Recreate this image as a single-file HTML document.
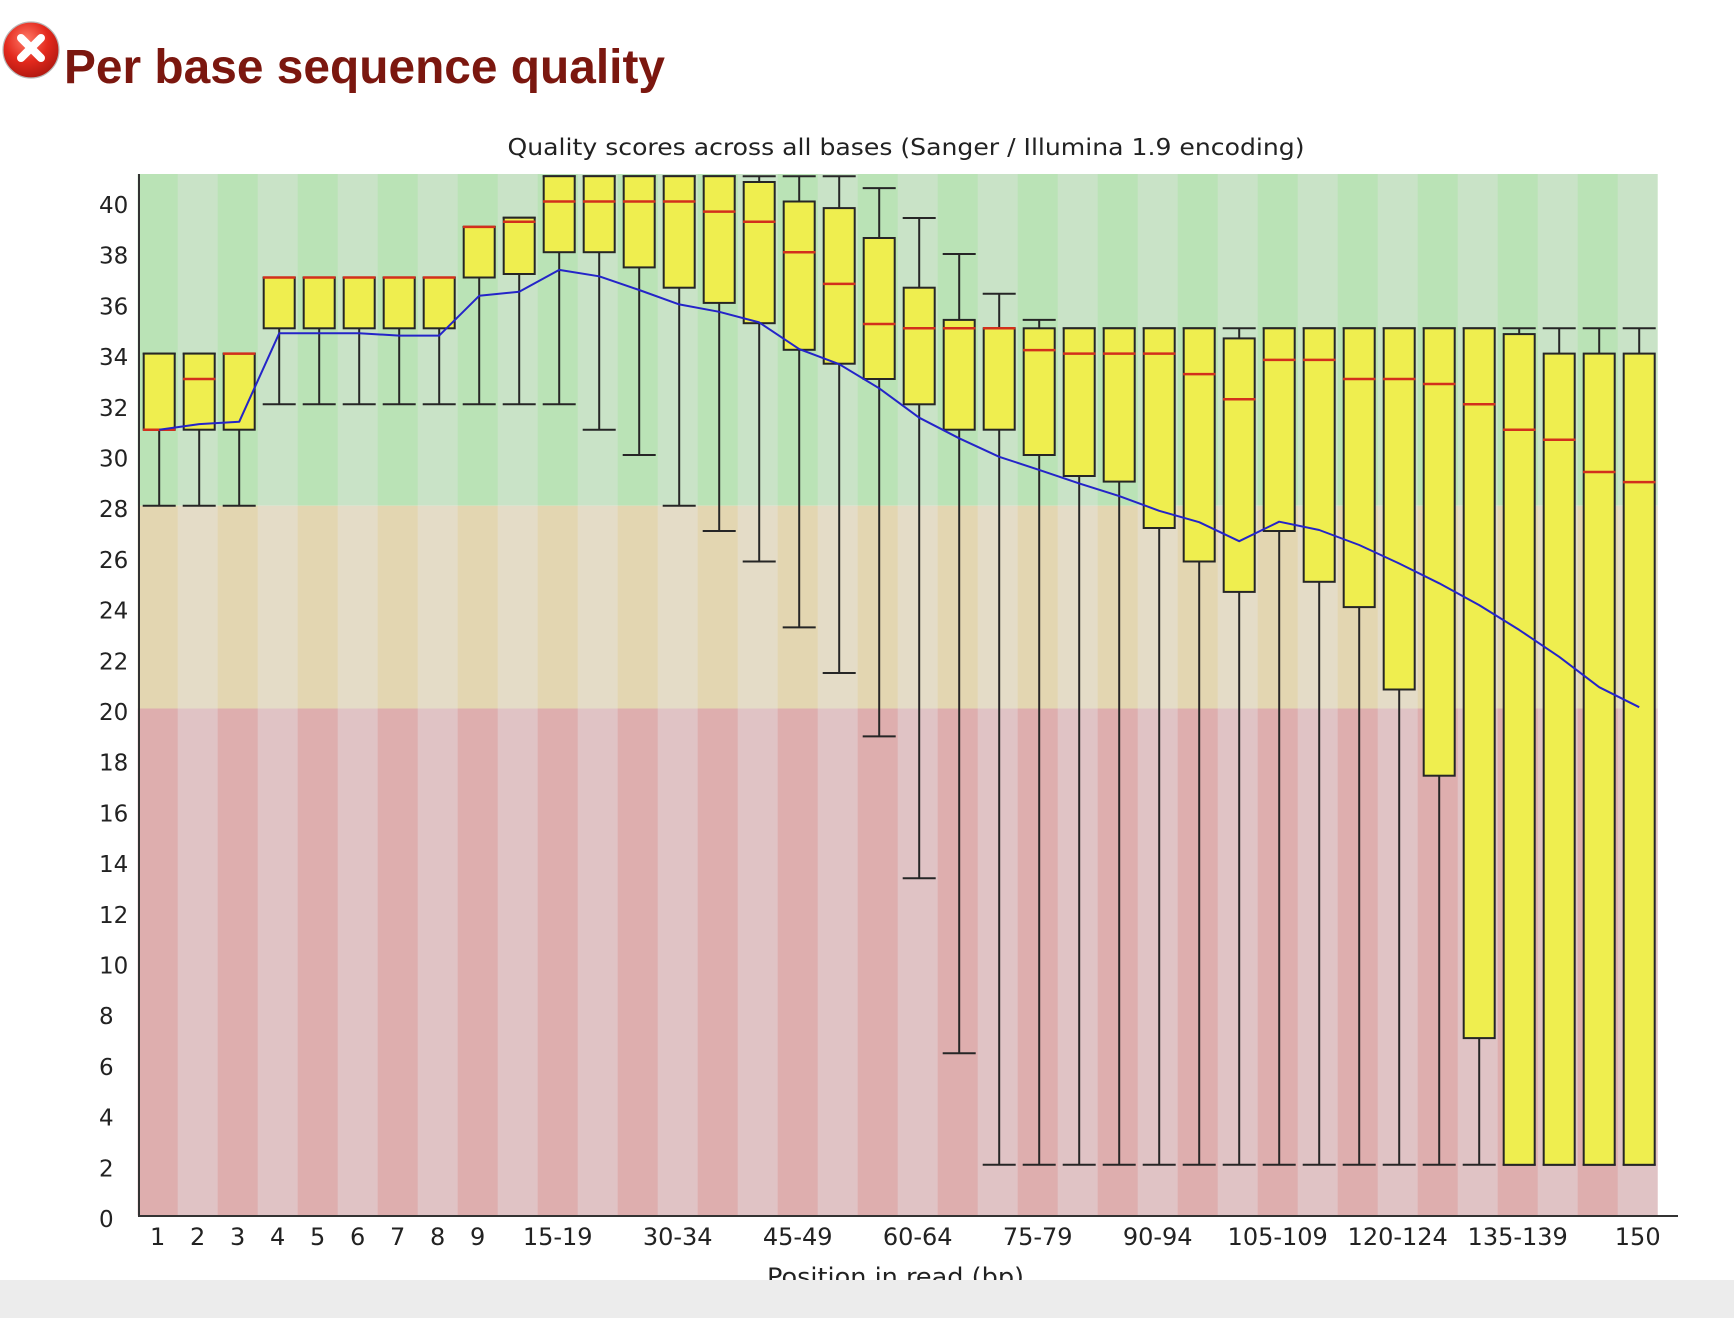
<!DOCTYPE html>
<html>
<head>
<meta charset="utf-8">
<style>
html,body{margin:0;padding:0;background:#fff;}
svg{display:block;}
.ax{stroke:#333;stroke-width:2;}
.w{stroke:#262626;stroke-width:2;}
.b{fill:#efee4f;stroke:#262626;stroke-width:2;}
.m{stroke:#d2301c;stroke-width:2.5;}
.yl{font-family:"DejaVu Sans","Liberation Sans",sans-serif;font-size:23px;fill:#222;}
.xl{font-family:"DejaVu Sans","Liberation Sans",sans-serif;font-size:24px;fill:#222;text-anchor:middle;}
</style>
</head>
<body>
<svg width="1734" height="1318" viewBox="0 0 1734 1318" xmlns="http://www.w3.org/2000/svg">
<defs>
<radialGradient id="ig" cx="0.42" cy="0.32" r="0.7">
<stop offset="0" stop-color="#ff7a68"/>
<stop offset="0.55" stop-color="#e3291d"/>
<stop offset="1" stop-color="#b01810"/>
</radialGradient>
<pattern id="pg" x="137.7" y="0" width="80" height="10" patternUnits="userSpaceOnUse">
<rect width="40" height="10" fill="#bae3b6"/><rect x="40" width="40" height="10" fill="#c9e3c7"/>
</pattern>
<pattern id="po" x="137.7" y="0" width="80" height="10" patternUnits="userSpaceOnUse">
<rect width="40" height="10" fill="#e3d6b1"/><rect x="40" width="40" height="10" fill="#e4dcc7"/>
</pattern>
<pattern id="pr" x="137.7" y="0" width="80" height="10" patternUnits="userSpaceOnUse">
<rect width="40" height="10" fill="#deaeae"/><rect x="40" width="40" height="10" fill="#e0c3c5"/>
</pattern>
</defs>

<!-- heading -->
<circle cx="31" cy="50" r="28" fill="url(#ig)" stroke="#b8b8b8" stroke-width="1.2"/>
<line x1="21" y1="38" x2="41" y2="58" stroke="#fff" stroke-width="8" stroke-linecap="round"/>
<line x1="41" y1="38" x2="21" y2="58" stroke="#fff" stroke-width="8" stroke-linecap="round"/>
<text x="64" y="83" font-family="'Liberation Sans',Arial,sans-serif" font-weight="bold" font-size="48" fill="#7b170f" textLength="601" lengthAdjust="spacingAndGlyphs">Per base sequence quality</text>

<!-- chart title -->
<text x="507.5" y="155" font-family="'DejaVu Sans','Liberation Sans',sans-serif" font-size="23" fill="#222" textLength="797" lengthAdjust="spacingAndGlyphs">Quality scores across all bases (Sanger / Illumina 1.9 encoding)</text>

<!-- backgrounds -->
<rect x="137.7" y="174" width="1520" height="331.7" fill="url(#pg)"/>
<rect x="137.7" y="505.7" width="1520" height="202.8" fill="url(#po)"/>
<rect x="137.7" y="708.5" width="1520" height="507" fill="url(#pr)"/>

<!-- columns -->
<g id="cols">
<g transform="translate(0,0)"><line class="w" x1="159.2" y1="353.6" x2="159.2" y2="505.7"/><line class="w" x1="142.7" x2="175.7" y1="353.6" y2="353.6"/><line class="w" x1="142.7" x2="175.7" y1="505.7" y2="505.7"/><rect class="b" x="143.7" y="353.6" width="31" height="76.1"/><line class="m" x1="143" x2="175.4" y1="429.7" y2="429.7"/></g>
<g transform="translate(40,0)"><line class="w" x1="159.2" y1="353.6" x2="159.2" y2="505.7"/><line class="w" x1="142.7" x2="175.7" y1="353.6" y2="353.6"/><line class="w" x1="142.7" x2="175.7" y1="505.7" y2="505.7"/><rect class="b" x="143.7" y="353.6" width="31" height="76.1"/><line class="m" x1="143" x2="175.4" y1="379" y2="379"/></g>
<g transform="translate(80,0)"><line class="w" x1="159.2" y1="353.6" x2="159.2" y2="505.7"/><line class="w" x1="142.7" x2="175.7" y1="353.6" y2="353.6"/><line class="w" x1="142.7" x2="175.7" y1="505.7" y2="505.7"/><rect class="b" x="143.7" y="353.6" width="31" height="76.1"/><line class="m" x1="143" x2="175.4" y1="353.6" y2="353.6"/></g>
<g transform="translate(120,0)"><line class="w" x1="159.2" y1="277.5" x2="159.2" y2="404.3"/><line class="w" x1="142.7" x2="175.7" y1="277.5" y2="277.5"/><line class="w" x1="142.7" x2="175.7" y1="404.3" y2="404.3"/><rect class="b" x="143.7" y="277.5" width="31" height="50.8"/><line class="m" x1="143" x2="175.4" y1="277.5" y2="277.5"/></g>
<g transform="translate(160,0)"><line class="w" x1="159.2" y1="277.5" x2="159.2" y2="404.3"/><line class="w" x1="142.7" x2="175.7" y1="277.5" y2="277.5"/><line class="w" x1="142.7" x2="175.7" y1="404.3" y2="404.3"/><rect class="b" x="143.7" y="277.5" width="31" height="50.8"/><line class="m" x1="143" x2="175.4" y1="277.5" y2="277.5"/></g>
<g transform="translate(200,0)"><line class="w" x1="159.2" y1="277.5" x2="159.2" y2="404.3"/><line class="w" x1="142.7" x2="175.7" y1="277.5" y2="277.5"/><line class="w" x1="142.7" x2="175.7" y1="404.3" y2="404.3"/><rect class="b" x="143.7" y="277.5" width="31" height="50.8"/><line class="m" x1="143" x2="175.4" y1="277.5" y2="277.5"/></g>
<g transform="translate(240,0)"><line class="w" x1="159.2" y1="277.5" x2="159.2" y2="404.3"/><line class="w" x1="142.7" x2="175.7" y1="277.5" y2="277.5"/><line class="w" x1="142.7" x2="175.7" y1="404.3" y2="404.3"/><rect class="b" x="143.7" y="277.5" width="31" height="50.8"/><line class="m" x1="143" x2="175.4" y1="277.5" y2="277.5"/></g>
<g transform="translate(280,0)"><line class="w" x1="159.2" y1="277.5" x2="159.2" y2="404.3"/><line class="w" x1="142.7" x2="175.7" y1="277.5" y2="277.5"/><line class="w" x1="142.7" x2="175.7" y1="404.3" y2="404.3"/><rect class="b" x="143.7" y="277.5" width="31" height="50.8"/><line class="m" x1="143" x2="175.4" y1="277.5" y2="277.5"/></g>
<g transform="translate(320,0)"><line class="w" x1="159.2" y1="226.9" x2="159.2" y2="404.3"/><line class="w" x1="142.7" x2="175.7" y1="226.9" y2="226.9"/><line class="w" x1="142.7" x2="175.7" y1="404.3" y2="404.3"/><rect class="b" x="143.7" y="226.9" width="31" height="50.6"/><line class="m" x1="143" x2="175.4" y1="226.9" y2="226.9"/></g>
<g transform="translate(360,0)"><line class="w" x1="159.2" y1="217.7" x2="159.2" y2="404.3"/><line class="w" x1="142.7" x2="175.7" y1="217.7" y2="217.7"/><line class="w" x1="142.7" x2="175.7" y1="404.3" y2="404.3"/><rect class="b" x="143.7" y="217.7" width="31" height="56.3"/><line class="m" x1="143" x2="175.4" y1="221.8" y2="221.8"/></g>
<g transform="translate(400,0)"><line class="w" x1="159.2" y1="176.2" x2="159.2" y2="404.3"/><line class="w" x1="142.7" x2="175.7" y1="176.2" y2="176.2"/><line class="w" x1="142.7" x2="175.7" y1="404.3" y2="404.3"/><rect class="b" x="143.7" y="176.2" width="31" height="76"/><line class="m" x1="143" x2="175.4" y1="201.5" y2="201.5"/></g>
<g transform="translate(440,0)"><line class="w" x1="159.2" y1="176.2" x2="159.2" y2="429.7"/><line class="w" x1="142.7" x2="175.7" y1="176.2" y2="176.2"/><line class="w" x1="142.7" x2="175.7" y1="429.7" y2="429.7"/><rect class="b" x="143.7" y="176.2" width="31" height="76"/><line class="m" x1="143" x2="175.4" y1="201.5" y2="201.5"/></g>
<g transform="translate(480,0)"><line class="w" x1="159.2" y1="176.2" x2="159.2" y2="455"/><line class="w" x1="142.7" x2="175.7" y1="176.2" y2="176.2"/><line class="w" x1="142.7" x2="175.7" y1="455" y2="455"/><rect class="b" x="143.7" y="176.2" width="31" height="91.2"/><line class="m" x1="143" x2="175.4" y1="201.5" y2="201.5"/></g>
<g transform="translate(520,0)"><line class="w" x1="159.2" y1="176.2" x2="159.2" y2="505.7"/><line class="w" x1="142.7" x2="175.7" y1="176.2" y2="176.2"/><line class="w" x1="142.7" x2="175.7" y1="505.7" y2="505.7"/><rect class="b" x="143.7" y="176.2" width="31" height="111.5"/><line class="m" x1="143" x2="175.4" y1="201.5" y2="201.5"/></g>
<g transform="translate(560,0)"><line class="w" x1="159.2" y1="176.2" x2="159.2" y2="531"/><line class="w" x1="142.7" x2="175.7" y1="176.2" y2="176.2"/><line class="w" x1="142.7" x2="175.7" y1="531" y2="531"/><rect class="b" x="143.7" y="176.2" width="31" height="126.7"/><line class="m" x1="143" x2="175.4" y1="211.6" y2="211.6"/></g>
<g transform="translate(600,0)"><line class="w" x1="159.2" y1="176.2" x2="159.2" y2="561.5"/><line class="w" x1="142.7" x2="175.7" y1="176.2" y2="176.2"/><line class="w" x1="142.7" x2="175.7" y1="561.5" y2="561.5"/><rect class="b" x="143.7" y="182" width="31" height="141.2"/><line class="m" x1="143" x2="175.4" y1="221.8" y2="221.8"/></g>
<g transform="translate(640,0)"><line class="w" x1="159.2" y1="176.2" x2="159.2" y2="627.4"/><line class="w" x1="142.7" x2="175.7" y1="176.2" y2="176.2"/><line class="w" x1="142.7" x2="175.7" y1="627.4" y2="627.4"/><rect class="b" x="143.7" y="201.5" width="31" height="148.3"/><line class="m" x1="143" x2="175.4" y1="252.2" y2="252.2"/></g>
<g transform="translate(680,0)"><line class="w" x1="159.2" y1="176.2" x2="159.2" y2="673"/><line class="w" x1="142.7" x2="175.7" y1="176.2" y2="176.2"/><line class="w" x1="142.7" x2="175.7" y1="673" y2="673"/><rect class="b" x="143.7" y="208.1" width="31" height="155.6"/><line class="m" x1="143" x2="175.4" y1="283.9" y2="283.9"/></g>
<g transform="translate(720,0)"><line class="w" x1="159.2" y1="188.1" x2="159.2" y2="736.4"/><line class="w" x1="142.7" x2="175.7" y1="188.1" y2="188.1"/><line class="w" x1="142.7" x2="175.7" y1="736.4" y2="736.4"/><rect class="b" x="143.7" y="238" width="31" height="141"/><line class="m" x1="143" x2="175.4" y1="324" y2="324"/></g>
<g transform="translate(760,0)"><line class="w" x1="159.2" y1="218" x2="159.2" y2="878.3"/><line class="w" x1="142.7" x2="175.7" y1="218" y2="218"/><line class="w" x1="142.7" x2="175.7" y1="878.3" y2="878.3"/><rect class="b" x="143.7" y="287.7" width="31" height="116.6"/><line class="m" x1="143" x2="175.4" y1="328.3" y2="328.3"/></g>
<g transform="translate(800,0)"><line class="w" x1="159.2" y1="254" x2="159.2" y2="1053.3"/><line class="w" x1="142.7" x2="175.7" y1="254" y2="254"/><line class="w" x1="142.7" x2="175.7" y1="1053.3" y2="1053.3"/><rect class="b" x="143.7" y="319.9" width="31" height="109.8"/><line class="m" x1="143" x2="175.4" y1="328.3" y2="328.3"/></g>
<g transform="translate(840,0)"><line class="w" x1="159.2" y1="293.8" x2="159.2" y2="1164.8"/><line class="w" x1="142.7" x2="175.7" y1="293.8" y2="293.8"/><line class="w" x1="142.7" x2="175.7" y1="1164.8" y2="1164.8"/><rect class="b" x="143.7" y="328.3" width="31" height="101.4"/><line class="m" x1="143" x2="175.4" y1="328.3" y2="328.3"/></g>
<g transform="translate(880,0)"><line class="w" x1="159.2" y1="319.9" x2="159.2" y2="1164.8"/><line class="w" x1="142.7" x2="175.7" y1="319.9" y2="319.9"/><line class="w" x1="142.7" x2="175.7" y1="1164.8" y2="1164.8"/><rect class="b" x="143.7" y="328.3" width="31" height="126.7"/><line class="m" x1="143" x2="175.4" y1="350.1" y2="350.1"/></g>
<g transform="translate(920,0)"><line class="w" x1="159.2" y1="328.3" x2="159.2" y2="1164.8"/><line class="w" x1="142.7" x2="175.7" y1="328.3" y2="328.3"/><line class="w" x1="142.7" x2="175.7" y1="1164.8" y2="1164.8"/><rect class="b" x="143.7" y="328.3" width="31" height="147.7"/><line class="m" x1="143" x2="175.4" y1="353.6" y2="353.6"/></g>
<g transform="translate(960,0)"><line class="w" x1="159.2" y1="328.3" x2="159.2" y2="1164.8"/><line class="w" x1="142.7" x2="175.7" y1="328.3" y2="328.3"/><line class="w" x1="142.7" x2="175.7" y1="1164.8" y2="1164.8"/><rect class="b" x="143.7" y="328.3" width="31" height="153.3"/><line class="m" x1="143" x2="175.4" y1="353.6" y2="353.6"/></g>
<g transform="translate(1000,0)"><line class="w" x1="159.2" y1="328.3" x2="159.2" y2="1164.8"/><line class="w" x1="142.7" x2="175.7" y1="328.3" y2="328.3"/><line class="w" x1="142.7" x2="175.7" y1="1164.8" y2="1164.8"/><rect class="b" x="143.7" y="328.3" width="31" height="199.7"/><line class="m" x1="143" x2="175.4" y1="353.6" y2="353.6"/></g>
<g transform="translate(1040,0)"><line class="w" x1="159.2" y1="328.3" x2="159.2" y2="1164.8"/><line class="w" x1="142.7" x2="175.7" y1="328.3" y2="328.3"/><line class="w" x1="142.7" x2="175.7" y1="1164.8" y2="1164.8"/><rect class="b" x="143.7" y="328.3" width="31" height="233.2"/><line class="m" x1="143" x2="175.4" y1="374.1" y2="374.1"/></g>
<g transform="translate(1080,0)"><line class="w" x1="159.2" y1="328.3" x2="159.2" y2="1164.8"/><line class="w" x1="142.7" x2="175.7" y1="328.3" y2="328.3"/><line class="w" x1="142.7" x2="175.7" y1="1164.8" y2="1164.8"/><rect class="b" x="143.7" y="338.4" width="31" height="253.5"/><line class="m" x1="143" x2="175.4" y1="399.2" y2="399.2"/></g>
<g transform="translate(1120,0)"><line class="w" x1="159.2" y1="328.3" x2="159.2" y2="1164.8"/><line class="w" x1="142.7" x2="175.7" y1="328.3" y2="328.3"/><line class="w" x1="142.7" x2="175.7" y1="1164.8" y2="1164.8"/><rect class="b" x="143.7" y="328.3" width="31" height="202.7"/><line class="m" x1="143" x2="175.4" y1="359.9" y2="359.9"/></g>
<g transform="translate(1160,0)"><line class="w" x1="159.2" y1="328.3" x2="159.2" y2="1164.8"/><line class="w" x1="142.7" x2="175.7" y1="328.3" y2="328.3"/><line class="w" x1="142.7" x2="175.7" y1="1164.8" y2="1164.8"/><rect class="b" x="143.7" y="328.3" width="31" height="253.5"/><line class="m" x1="143" x2="175.4" y1="359.9" y2="359.9"/></g>
<g transform="translate(1200,0)"><line class="w" x1="159.2" y1="328.3" x2="159.2" y2="1164.8"/><line class="w" x1="142.7" x2="175.7" y1="328.3" y2="328.3"/><line class="w" x1="142.7" x2="175.7" y1="1164.8" y2="1164.8"/><rect class="b" x="143.7" y="328.3" width="31" height="278.8"/><line class="m" x1="143" x2="175.4" y1="379" y2="379"/></g>
<g transform="translate(1240,0)"><line class="w" x1="159.2" y1="328.3" x2="159.2" y2="1164.8"/><line class="w" x1="142.7" x2="175.7" y1="328.3" y2="328.3"/><line class="w" x1="142.7" x2="175.7" y1="1164.8" y2="1164.8"/><rect class="b" x="143.7" y="328.3" width="31" height="361.2"/><line class="m" x1="143" x2="175.4" y1="379" y2="379"/></g>
<g transform="translate(1280,0)"><line class="w" x1="159.2" y1="328.3" x2="159.2" y2="1164.8"/><line class="w" x1="142.7" x2="175.7" y1="328.3" y2="328.3"/><line class="w" x1="142.7" x2="175.7" y1="1164.8" y2="1164.8"/><rect class="b" x="143.7" y="328.3" width="31" height="447.4"/><line class="m" x1="143" x2="175.4" y1="384" y2="384"/></g>
<g transform="translate(1320,0)"><line class="w" x1="159.2" y1="328.3" x2="159.2" y2="1164.8"/><line class="w" x1="142.7" x2="175.7" y1="328.3" y2="328.3"/><line class="w" x1="142.7" x2="175.7" y1="1164.8" y2="1164.8"/><rect class="b" x="143.7" y="328.3" width="31" height="709.8"/><line class="m" x1="143" x2="175.4" y1="404.3" y2="404.3"/></g>
<g transform="translate(1360,0)"><line class="w" x1="159.2" y1="328.3" x2="159.2" y2="1164.8"/><line class="w" x1="142.7" x2="175.7" y1="328.3" y2="328.3"/><line class="w" x1="142.7" x2="175.7" y1="1164.8" y2="1164.8"/><rect class="b" x="143.7" y="334.1" width="31" height="830.7"/><line class="m" x1="143" x2="175.4" y1="429.7" y2="429.7"/></g>
<g transform="translate(1400,0)"><line class="w" x1="159.2" y1="328.3" x2="159.2" y2="1164.8"/><line class="w" x1="142.7" x2="175.7" y1="328.3" y2="328.3"/><line class="w" x1="142.7" x2="175.7" y1="1164.8" y2="1164.8"/><rect class="b" x="143.7" y="353.6" width="31" height="811.2"/><line class="m" x1="143" x2="175.4" y1="439.8" y2="439.8"/></g>
<g transform="translate(1440,0)"><line class="w" x1="159.2" y1="328.3" x2="159.2" y2="1164.8"/><line class="w" x1="142.7" x2="175.7" y1="328.3" y2="328.3"/><line class="w" x1="142.7" x2="175.7" y1="1164.8" y2="1164.8"/><rect class="b" x="143.7" y="353.6" width="31" height="811.2"/><line class="m" x1="143" x2="175.4" y1="472" y2="472"/></g>
<g transform="translate(1480,0)"><line class="w" x1="159.2" y1="328.3" x2="159.2" y2="1164.8"/><line class="w" x1="142.7" x2="175.7" y1="328.3" y2="328.3"/><line class="w" x1="142.7" x2="175.7" y1="1164.8" y2="1164.8"/><rect class="b" x="143.7" y="353.6" width="31" height="811.2"/><line class="m" x1="143" x2="175.4" y1="482.1" y2="482.1"/></g>
</g>

<!-- mean line -->
<polyline fill="none" stroke="#2424c8" stroke-width="2" stroke-linejoin="round" points="159.2,429.7 199.2,424.1 239.2,421.8 279.2,333.3 319.2,333.3 359.2,333.3 399.2,335.6 439.2,335.6 479.2,295.8 519.2,291.7 559.2,269.9 599.2,276.3 639.2,290 679.2,304.4 719.2,311.8 759.2,322.4 799.2,349.1 839.2,364.2 879.2,388.3 919.2,417.7 959.2,438.3 999.2,456.8 1039.2,469.9 1079.2,483.4 1119.2,496.1 1159.2,510.8 1199.2,522.2 1239.2,541.2 1279.2,521.7 1319.2,530 1359.2,545 1399.2,563.5 1439.2,583.3 1479.2,605.1 1519.2,629.9 1559.2,656.8 1599.2,687.2 1639.2,707.2"/>

<!-- axes -->
<line class="ax" x1="139" y1="174" x2="139" y2="1217"/>
<line class="ax" x1="138" y1="1216" x2="1678" y2="1216"/>

<!-- y labels -->
<text class="yl" x="99" y="213">40</text>
<text class="yl" x="99" y="263.7">38</text>
<text class="yl" x="99" y="314.4">36</text>
<text class="yl" x="99" y="365.1">34</text>
<text class="yl" x="99" y="415.8">32</text>
<text class="yl" x="99" y="466.5">30</text>
<text class="yl" x="99" y="517.2">28</text>
<text class="yl" x="99" y="567.9">26</text>
<text class="yl" x="99" y="618.6">24</text>
<text class="yl" x="99" y="669.3">22</text>
<text class="yl" x="99" y="720">20</text>
<text class="yl" x="99" y="770.7">18</text>
<text class="yl" x="99" y="821.4">16</text>
<text class="yl" x="99" y="872.1">14</text>
<text class="yl" x="99" y="922.8">12</text>
<text class="yl" x="99" y="973.5">10</text>
<text class="yl" x="99" y="1024.2">8</text>
<text class="yl" x="99" y="1074.9">6</text>
<text class="yl" x="99" y="1125.6">4</text>
<text class="yl" x="99" y="1176.3">2</text>
<text class="yl" x="99" y="1227">0</text>

<!-- x labels -->
<text class="xl" x="157.7" y="1245">1</text>
<text class="xl" x="197.7" y="1245">2</text>
<text class="xl" x="237.7" y="1245">3</text>
<text class="xl" x="277.7" y="1245">4</text>
<text class="xl" x="317.7" y="1245">5</text>
<text class="xl" x="357.7" y="1245">6</text>
<text class="xl" x="397.7" y="1245">7</text>
<text class="xl" x="437.7" y="1245">8</text>
<text class="xl" x="477.7" y="1245">9</text>
<text class="xl" x="557.7" y="1245">15-19</text>
<text class="xl" x="677.7" y="1245">30-34</text>
<text class="xl" x="797.7" y="1245">45-49</text>
<text class="xl" x="917.7" y="1245">60-64</text>
<text class="xl" x="1037.7" y="1245">75-79</text>
<text class="xl" x="1157.7" y="1245">90-94</text>
<text class="xl" x="1277.7" y="1245">105-109</text>
<text class="xl" x="1397.7" y="1245">120-124</text>
<text class="xl" x="1517.7" y="1245">135-139</text>
<text class="xl" x="1637.7" y="1245">150</text>

<!-- x title (clipped by footer) -->
<text x="767" y="1285" font-family="'DejaVu Sans','Liberation Sans',sans-serif" font-size="24" fill="#222" textLength="257" lengthAdjust="spacingAndGlyphs">Position in read (bp)</text>

<!-- footer -->
<rect x="0" y="1280" width="1734" height="38" fill="#ececec"/>
</svg>
</body>
</html>
